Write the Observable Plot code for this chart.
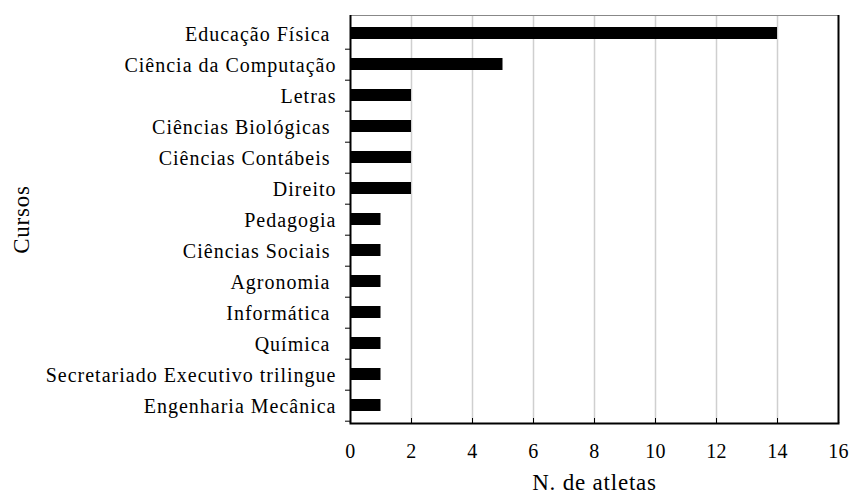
<!DOCTYPE html>
<html>
<head>
<meta charset="utf-8">
<script src="https://cdn.jsdelivr.net/npm/d3@7"></script>
<script src="https://cdn.jsdelivr.net/npm/@observablehq/plot@0.6"></script>
<style>
body { margin: 0; background: #fff; }
#chart svg, #chart svg text { font-family: "Liberation Serif", "Times New Roman", serif !important; }
#chart svg g[aria-label="y-axis tick label"] text { font-size: 20px !important; letter-spacing: 1px; }
#chart svg g[aria-label="x-axis tick label"] text { font-size: 20px !important; letter-spacing: 0.3px; }
#chart svg g[aria-label="x-axis label"] text,
#chart svg g[aria-label="y-axis label"] text { font-size: 23px !important; letter-spacing: 0.8px; }
</style>
</head>
<body>
<div id="chart"></div>
<script>
const cursos = [
  "Educação Física\u00a0",
  "Ciência da Computação",
  "Letras",
  "Ciências Biológicas\u00a0",
  "Ciências Contábeis\u00a0",
  "Direito",
  "Pedagogia",
  "Ciências Sociais\u00a0",
  "Agronomia\u00a0",
  "Informática\u00a0",
  "Química\u00a0",
  "Secretariado Executivo trilingue",
  "Engenharia Mecânica"
];
const atletas = [14, 5, 2, 2, 2, 2, 1, 1, 1, 1, 1, 1, 1];
const xTicks = [0, 2, 4, 6, 8, 10, 12, 14, 16];
const gridTicks = [2, 4, 6, 8, 10, 12, 14];

const data = cursos.map((c, i) => ({curso: c, n: atletas[i]}));

const W = 850, H = 496, mT = 15, mB = 73, mL = 350, mR = 12;
const step = (H - mT - mB) / cursos.length;

const chart = Plot.plot({
  width: W,
  height: H,
  marginTop: mT,
  marginBottom: mB,
  marginLeft: mL,
  marginRight: mR,
  style: {fontFamily: "'Liberation Serif', 'Times New Roman', serif", fontSize: "20px", color: "#000", background: "#fff"},
  x: {domain: [0, 16]},
  y: {domain: cursos, paddingInner: 0.6, paddingOuter: 0.3},
  marks: [
    Plot.gridX(gridTicks, {stroke: "#cfcfcf", strokeOpacity: 1, strokeWidth: 1.5}),
    Plot.frame({stroke: "#888", strokeWidth: 1}),
    Plot.barX(data, {x: "n", y: "curso", fill: "#000"}),
    Plot.ruleX([0], {stroke: "#000", strokeWidth: 2}),
    Plot.ruleX([16], {stroke: "#000", strokeWidth: 2}),
    Plot.frame({anchor: "bottom", stroke: "#000", strokeWidth: 2}),
    Plot.axisY({tickSize: 0, tickPadding: 14, dy: 1, label: "Cursos", labelAnchor: "center", labelOffset: 338}),
    Plot.axisY({text: null, tickSize: 5, dy: step / 2, label: null}),
    Plot.axisX(xTicks, {tickSize: 0, tickPadding: 20, label: "N. de atletas", labelAnchor: "center", labelOffset: 66, labelArrow: false}),
    Plot.axisX(xTicks, {text: null, tickSize: -5, label: null})
  ]
});
document.getElementById("chart").appendChild(chart);
</script>
</body>
</html>
